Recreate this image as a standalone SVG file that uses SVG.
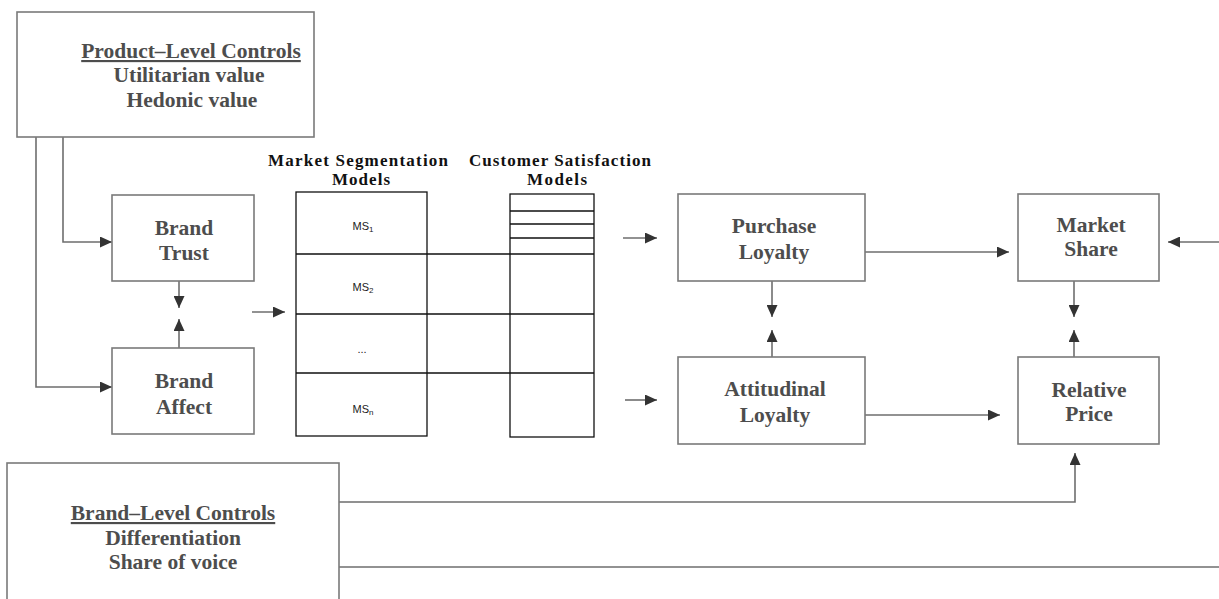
<svg xmlns="http://www.w3.org/2000/svg" width="1219" height="599" viewBox="0 0 1219 599">
<style>
.box{fill:#fff;stroke:#7a7a7a;stroke-width:1.6}
.grid{fill:#fff;stroke:#111;stroke-width:1.3}
.gl{stroke:#111;stroke-width:1.3;fill:none}
.t{font-family:"Liberation Serif","Times New Roman",serif;font-weight:bold;font-size:21.5px;fill:#4d4d4d;text-anchor:middle}
.h{font-family:"Liberation Serif","Times New Roman",serif;font-weight:bold;font-size:17px;fill:#111;text-anchor:middle}
.s{font-family:"Liberation Sans",Arial,sans-serif;font-size:11px;fill:#222;text-anchor:middle}
.c{fill:none;stroke:#6e6e6e;stroke-width:1.6}
</style>
<defs>
<marker id="ah" markerUnits="userSpaceOnUse" markerWidth="12" markerHeight="11" refX="12" refY="5.5" orient="auto">
<path d="M0,0 L12,5.5 L0,11 z" fill="#333"/>
</marker>
</defs>
<rect width="1219" height="599" fill="#fff"/>

<g id="connectors">
<path class="c" d="M63,137 V242 H112" marker-end="url(#ah)"/>
<path class="c" d="M36,137 V387 H112" marker-end="url(#ah)"/>
<path class="c" d="M179,281 V308" marker-end="url(#ah)"/>
<path class="c" d="M179,348 V319" marker-end="url(#ah)"/>
<path class="c" d="M252,312 H285" marker-end="url(#ah)"/>
<path class="c" d="M623,238 H657" marker-end="url(#ah)"/>
<path class="c" d="M625,400 H657" marker-end="url(#ah)"/>
<path class="c" d="M865,252 H1009" marker-end="url(#ah)"/>
<path class="c" d="M865,415 H1000" marker-end="url(#ah)"/>
<path class="c" d="M772,281 V317" marker-end="url(#ah)"/>
<path class="c" d="M772,357 V330" marker-end="url(#ah)"/>
<path class="c" d="M1074,281 V317" marker-end="url(#ah)"/>
<path class="c" d="M1074,357 V330" marker-end="url(#ah)"/>
<path class="c" d="M339,502 H1075 V453" marker-end="url(#ah)"/>
<path class="c" d="M339,567 H1219"/>
<path class="c" d="M1219,242 H1168" marker-end="url(#ah)"/>
</g>

<g id="product-controls">
<rect class="box" x="17" y="12" width="297" height="125"/>
<text class="t" x="191" y="58" text-decoration="underline">Product–Level Controls</text>
<text class="t" x="189" y="82">Utilitarian value</text>
<text class="t" x="192" y="107">Hedonic value</text>
</g>

<g id="brand-trust">
<rect class="box" x="112" y="195" width="142" height="86"/>
<text class="t" x="184" y="235">Brand</text>
<text class="t" x="184" y="260">Trust</text>
</g>

<g id="brand-affect">
<rect class="box" x="112" y="348" width="142" height="86"/>
<text class="t" x="184" y="388">Brand</text>
<text class="t" x="184" y="414">Affect</text>
</g>

<g id="market-segmentation">
<text class="h" x="358" y="166" textLength="180" lengthAdjust="spacing">Market Segmentation</text>
<text class="h" x="361" y="185" textLength="58" lengthAdjust="spacing">Models</text>
<rect class="grid" x="296" y="192" width="131" height="244"/>
<path class="gl" d="M296,254 H510 M296,314 H510 M296,373 H510"/>
<text class="s" x="363" y="230">MS<tspan font-size="8" dy="2">1</tspan></text>
<text class="s" x="363" y="291">MS<tspan font-size="8" dy="2">2</tspan></text>
<text class="s" x="362" y="353">...</text>
<text class="s" x="363" y="413">MS<tspan font-size="8" dy="2">n</tspan></text>
</g>

<g id="customer-satisfaction">
<text class="h" x="560" y="166" textLength="182" lengthAdjust="spacing">Customer Satisfaction</text>
<text class="h" x="557" y="185" textLength="60" lengthAdjust="spacing">Models</text>
<rect class="grid" x="510" y="194" width="84" height="243"/>
<path class="gl" d="M510,211 H594 M510,224 H594 M510,238 H594 M510,254 H594 M510,314 H594 M510,373 H594"/>
</g>

<g id="purchase-loyalty">
<rect class="box" x="678" y="194" width="187" height="87"/>
<text class="t" x="774" y="233">Purchase</text>
<text class="t" x="774" y="259">Loyalty</text>
</g>

<g id="attitudinal-loyalty">
<rect class="box" x="678" y="357" width="187" height="87"/>
<text class="t" x="775" y="396">Attitudinal</text>
<text class="t" x="775" y="422">Loyalty</text>
</g>

<g id="market-share">
<rect class="box" x="1018" y="194" width="141" height="87"/>
<text class="t" x="1091" y="232">Market</text>
<text class="t" x="1091" y="256">Share</text>
</g>

<g id="relative-price">
<rect class="box" x="1018" y="357" width="141" height="87"/>
<text class="t" x="1089" y="397">Relative</text>
<text class="t" x="1089" y="421">Price</text>
</g>

<g id="brand-controls">
<rect class="box" x="7" y="463" width="332" height="150"/>
<text class="t" x="173" y="520" text-decoration="underline">Brand–Level Controls</text>
<text class="t" x="173" y="545">Differentiation</text>
<text class="t" x="173" y="569">Share of voice</text>
</g>
</svg>
